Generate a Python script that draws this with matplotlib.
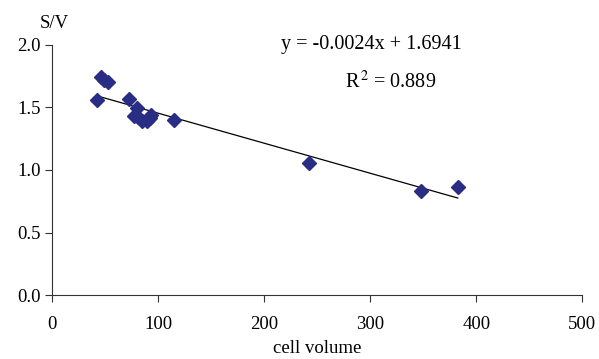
import numpy as np
import matplotlib.pyplot as plt

plt.rcParams['font.family'] = ['Liberation Serif', 'DejaVu Serif']
plt.rcParams['mathtext.fontset'] = 'stix'

# cell volume vs surface/volume ratio
cell_volume = [42.2, 46.5, 49.4, 53.0, 72.7, 80.5, 77.7, 81.0, 84.8,
               89.5, 93.0, 92.0, 114.5, 242.3, 347.9, 382.6]
sv_ratio = [1.562, 1.744, 1.72, 1.70, 1.567, 1.493, 1.434, 1.42, 1.394,
            1.394, 1.44, 1.415, 1.402, 1.055, 0.833, 0.868]
slope = -0.0024
intercept = 1.6941
r2 = 0.889

fig = plt.figure(figsize=(5.99, 3.59), dpi=100)
ax = fig.add_axes([0.087, 0.178, 0.885, 0.697])

ax.plot(cell_volume, sv_ratio, 'D', color='#2a2d84', markersize=7, zorder=3)
xl = np.array([min(cell_volume), max(cell_volume)])
ax.plot(xl, slope * xl + intercept, color='black', lw=0.9, zorder=2)

ax.set_xlim(0, 500)
ax.set_ylim(0, 2.0)
ax.set_xticks(np.arange(0, 501, 100))
ax.set_yticks(np.arange(0, 2.01, 0.5))
ax.yaxis.set_major_formatter(plt.FormatStrFormatter('%.1f'))
for s in ['top', 'right']:
    ax.spines[s].set_visible(False)
for s in ['left', 'bottom']:
    ax.spines[s].set_color('#333333')
ax.tick_params(direction='out', length=5, color='#333333', labelsize=13.5, pad=3)
ax.tick_params(axis='x', pad=10)

ax.set_xlabel('cell volume', fontsize=13.5, labelpad=5)
fig.text(0.067, 0.935, 'S/V', fontsize=13.5, ha='left', va='center')

ax.text(216, 2.0, 'y = -0.0024x + 1.6941', fontsize=14.5, ha='left', va='center')
ax.text(276, 1.70, r'R$^{\,2}$ = %.3f' % r2, fontsize=14.5, ha='left', va='center')

fig.savefig('out.png', dpi=100)
